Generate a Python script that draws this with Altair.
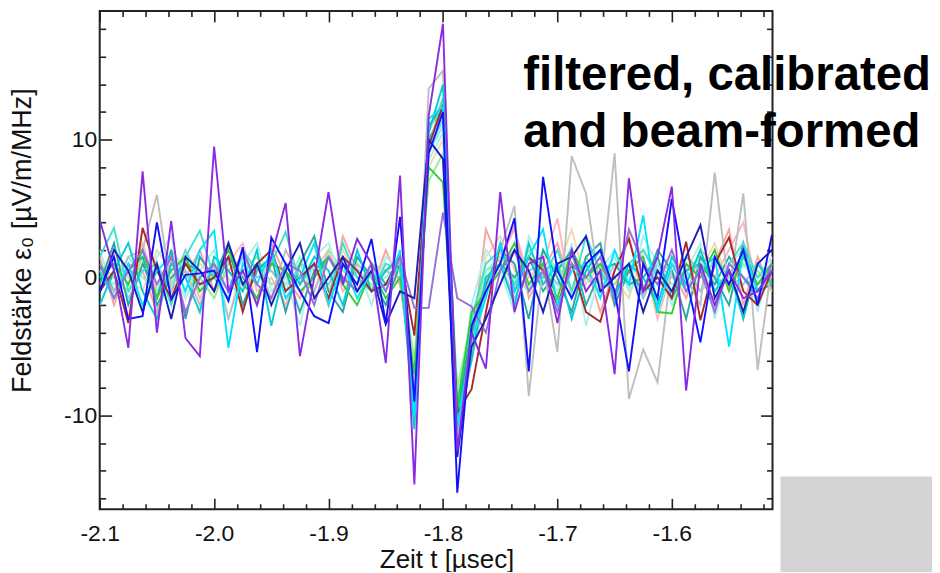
import altair as alt
import pandas as pd

FONT = "Liberation Sans"

# sample times (12.5 ns grid), microseconds
t_vals = [-2.1000, -2.0875, -2.0750, -2.0625, -2.0500, -2.0375, -2.0250, -2.0125,
          -2.0000, -1.9875, -1.9750, -1.9625, -1.9500, -1.9375, -1.9250, -1.9125,
          -1.9000, -1.8875, -1.8750, -1.8625, -1.8500, -1.8375, -1.8250, -1.8125,
          -1.8000, -1.7875, -1.7750, -1.7625, -1.7500, -1.7375, -1.7250, -1.7125,
          -1.7000, -1.6875, -1.6750, -1.6625, -1.6500, -1.6375, -1.6250, -1.6125,
          -1.6000, -1.5875, -1.5750, -1.5625, -1.5500, -1.5375, -1.5250, -1.5125]

wheat = [-0.5, 1.5, 0.0, -1.0, 2.0, 0.5, -1.5, 1.0, 0.0, 2.0, -1.0, 0.5, 1.5, -0.5, 0.0, 1.0,
         -1.0, 2.0, 0.0, 0.5, 1.0, 0.5, -6.5, 8.0, 10.0, -9.0, -4.5, 1.5, 3.0, 0.5, -1.0, 2.0,
         0.5, 3.5, -0.5, 1.0, 0.0, -1.5, 2.0, 0.5, 1.0, -1.0, 0.5, 2.5, -0.5, 1.0, 0.0, 1.5]
pink = [0.5, 1.0, -0.5, 2.5, -1.0, 0.0, 1.5, -1.5, 0.5, 1.0, 2.5, -1.0, 0.0, -2.0, 1.0, 0.5,
        2.0, -1.0, 0.5, -0.5, 0.5, -0.5, -7.0, 10.5, 13.0, -10.5, -4.0, 0.5, 1.5, 3.5, 0.0, 1.0,
        4.3, -1.5, 0.5, 1.0, -2.0, 0.5, 1.5, -3.0, 0.5, 1.0, -1.0, 0.0, 2.0, 4.0, -1.0, 0.5]
salmon = [1.5, -2.0, 1.0, 0.5, -2.5, 1.5, 0.0, 2.0, -1.0, 0.5, 1.5, -2.0, 2.5, 0.0, -1.5, 1.0,
          -2.0, 3.0, 0.5, -1.0, 2.0, -0.5, -8.0, 11.0, 12.0, -9.0, -5.0, 3.5, 1.0, 3.8, -1.5, 0.5,
          2.5, -1.0, 1.0, -2.5, 0.5, 3.0, -1.5, 1.0, 0.5, -1.5, 2.0, 1.0, 3.5, -2.0, 1.5, -1.0]
lightgreen = [1.0, 0.0, -1.0, 1.5, 0.5, -0.5, 2.0, 0.0, -1.5, 1.0, 0.5, 1.5, -0.5, 0.0, 1.0, -1.0,
              2.0, 0.5, -0.5, 1.0, 0.5, 1.0, -6.0, 7.0, 9.0, -8.0, -3.0, 0.5, 1.0, -0.5, 2.0, 0.5,
              1.0, -1.0, 1.5, 0.0, -0.5, 1.0, 2.0, 0.5, -1.0, 0.5, 1.5, 0.0, -0.5, 1.0, 0.5, -1.0]
aquamarine = [0.5, -0.5, 1.5, 0.0, -1.0, 2.0, 0.5, -1.0, 1.0, 0.0, -2.0, 1.0, 0.5, -0.5, 1.5, -1.5,
              0.0, 1.0, 0.5, -0.5, 0.0, 1.0, -8.5, 9.0, 11.0, -8.5, -5.5, 0.5, 1.5, 0.0, -1.0, 2.0,
              0.5, -1.5, 1.0, 0.0, 1.5, -1.0, 0.5, 1.0, -0.5, 0.0, 1.5, -1.0, 0.5, 1.0, -0.5, 0.0]
skyblue = [0.0, 1.0, -1.5, 0.5, 1.0, -1.0, 2.0, -0.5, 0.5, -1.0, 1.5, 0.0, 0.5, -1.0, 1.0, 0.5,
           -0.5, 1.5, 0.0, -1.0, 0.5, 0.0, -8.0, 9.0, 11.5, -11.0, -5.0, 0.0, 1.0, -1.5, 0.5, 1.0,
           -0.5, 1.5, 0.0, -1.0, 1.0, 0.5, -1.5, 1.0, 0.0, 0.5, -1.0, 1.5, 0.0, -0.5, 1.0, 0.0]
paleturquoise = [2.0, -1.0, 0.5, -2.5, 1.5, 3.0, -1.5, 0.5, 2.0, -3.0, 1.0, 2.5, -1.0, 0.0, -3.5, 1.5,
                 2.5, -0.5, 1.0, -2.0, 1.5, 0.5, -7.5, 8.5, 10.5, -9.5, -2.0, 2.0, 0.5, -2.5, 3.0, 1.0,
                 -1.0, 2.5, -3.5, 0.5, 2.0, -1.0, 3.0, 1.0, -2.0, 0.5, 2.5, -3.0, 1.0, 2.0, -2.5, 1.5]
seagreen = [1.0, -1.0, 0.5, 1.5, -2.0, 0.0, 1.0, 0.5, -1.0, 1.5, 0.0, -1.5, 1.0, 0.5, -2.5, 0.5,
            1.5, 0.0, -1.0, 1.0, -0.5, 1.0, -9.0, 10.0, 12.0, -10.0, -3.5, -0.5, 1.0, 0.0, 1.5, -1.0,
            0.5, 2.0, -2.0, 0.5, 1.0, -0.5, 0.0, 1.5, -1.5, 0.5, 1.0, -0.5, 1.5, 0.0, -1.0, 0.5]
darkcyan = [-0.5, 2.5, -2.0, 1.0, -1.5, 2.0, -3.0, 1.5, 0.0, 2.5, -2.0, 0.5, 1.5, -2.5, 1.0, 3.0,
            -1.0, -2.5, 1.5, 0.0, -2.0, 1.0, -9.5, 11.0, 12.5, -10.5, -4.0, -0.5, 2.0, 1.0, -3.0, 2.0,
            0.0, -2.5, 1.5, 2.5, -2.0, 0.5, -1.0, 2.0, 0.5, -3.0, 1.5, 0.0, -2.0, 2.5, -1.0, -0.5]
gray = [0.5, -1.0, 1.5, 2.0, 6.0, -1.0, 0.5, -2.0, 1.0, -3.0, 0.5, 1.0, -1.5, 2.0, 0.0, -1.0,
        1.5, -0.5, 1.0, 0.0, 0.5, 1.0, -8.0, 13.7, 15.0, -11.5, -6.0, -1.0, 2.0, 5.2, -8.6, 1.0,
        -5.4, 8.8, 6.1, -1.0, 9.0, -8.8, -5.2, -7.6, 1.0, 0.0, -2.0, 7.6, -1.0, 6.1, -6.7, 1.0]
turquoise = [1.5, 3.6, -1.0, 0.5, 1.0, -2.0, 1.5, 3.4, 0.0, -1.5, 2.0, 0.5, 1.0, 3.3, -0.5, 1.0,
             -1.5, 2.5, 0.0, -1.0, 1.0, 0.5, -9.5, 9.5, 13.0, -9.0, -3.0, 1.0, 2.0, -0.5, 1.5, 0.0,
             2.0, -1.0, 3.0, 0.5, -1.5, 1.0, 2.0, 0.0, -1.0, 1.5, 0.5, -2.0, 1.0, 2.5, 0.0, 1.0]
green = [0.0, 1.0, -0.5, 2.0, -1.5, 0.5, 1.5, -1.0, 0.0, 2.0, -0.5, -1.5, 1.0, 0.5, -1.0, 0.0,
         1.5, -0.5, -2.0, 0.5, -1.5, 0.0, -7.0, 8.0, 6.9, -9.5, -2.5, -1.0, 0.5, 2.5, -0.5, 1.0,
         -1.5, 2.0, 0.0, 1.0, -1.0, 0.5, 1.5, -2.5, -2.6, 1.0, 0.0, 2.0, -1.0, 1.5, -0.5, 1.0]
darkturquoise = [-2.0, 0.5, 2.5, -1.0, -3.0, 1.0, 0.0, -2.5, 1.5, 0.5, -1.0, 2.0, -3.5, 1.0, -0.5, 1.5,
                 0.5, -2.0, 2.0, -1.0, 0.5, 1.5, -11.0, 10.5, 14.0, -10.0, -6.0, 0.0, 1.0, -2.0, 2.5, -0.5,
                 1.0, -3.0, 0.5, 2.0, -1.5, 1.0, 0.0, -2.0, 1.5, -0.5, 2.0, -1.0, 0.5, -3.0, 1.0, -0.5]
brown = [-1.0, 0.5, -3.3, 3.6, 0.5, -1.5, 1.0, -0.5, 0.0, 1.5, -2.5, 1.0, 2.0, -1.0, 0.0, 1.0,
         -1.5, 1.5, 0.5, -1.0, -0.5, 1.5, -4.2, 9.5, 12.5, -9.8, -8.1, -2.5, 2.5, -1.0, 1.5, 0.5,
         -2.0, 1.0, -2.5, -3.2, 0.5, 2.8, -1.0, 0.0, -1.5, 2.6, -3.1, 1.0, 2.9, -1.0, -2.0, 0.5]
cyan = [0.5, -1.5, 1.0, -2.0, 0.5, 1.5, -1.0, 2.0, 3.4, -5.1, 1.0, -0.5, 2.0, -1.5, 0.0, 2.5,
        -2.0, 1.0, -1.5, 0.5, -1.0, 2.0, -10.0, 11.5, 12.4, -11.0, -4.5, -1.5, 2.5, -1.0, 1.5, 3.5,
        -2.0, 0.5, 1.0, -1.5, 2.0, -0.5, 4.5, -2.5, 1.0, -1.0, 0.5, 1.5, -5.0, 2.0, -1.0, 0.5]
medpurple = [1.0, -1.5, 0.5, 2.0, -0.5, 1.5, -2.5, 0.0, 1.0, -1.0, 2.0, -0.5, -1.5, 1.0, 0.5, -2.0,
             1.5, 0.0, -1.0, 1.0, -1.0, 1.5, -2.2, -2.2, 4.7, -1.5, -2.1, -4.0, 0.5, 2.0, -1.0, 0.5,
             -2.5, 1.0, 0.0, 1.5, -1.5, 3.5, 1.0, -0.5, 2.0, -1.0, 0.5, -2.5, 1.0, 0.0, -1.5, 1.0]
darkblue = [-1.1, 2.0, 0.5, -2.5, 1.0, -3.0, 1.5, 0.5, -1.0, 2.5, -0.5, 1.0, -2.0, 0.5, 2.5, -1.5,
            0.0, 1.5, -1.0, 0.5, -3.4, -1.0, -1.5, 10.0, 8.6, -13.0, -5.0, -3.0, -0.5, 2.0, 0.5, -2.5,
            1.0, 1.5, 3.0, -1.0, 0.0, 1.0, -2.5, 0.5, -1.0, 1.5, 3.8, -1.5, 0.5, -2.5, 1.0, 2.0]
blue = [-1.0, 1.5, -3.0, -2.8, 4.0, -1.6, 0.2, 0.3, 0.5, -1.7, 2.2, -5.4, 2.9, 1.0, -1.0, -2.8,
        -3.3, 1.0, -0.5, 2.8, -3.3, 4.4, -9.0, 9.0, 12.0, -15.6, -3.5, -1.0, 1.0, 4.3, -6.8, 7.3,
        0.5, -1.5, 1.0, 2.0, -1.0, -6.8, 1.0, -1.5, 5.7, 0.0, -4.7, 1.5, -0.5, 2.0, -2.0, 3.1]
purple = [4.2, 0.5, -5.1, 7.7, -4.0, 4.1, -4.4, -5.7, 9.5, -1.0, 0.5, -2.0, 1.5, 5.4, -5.7, 0.0,
          6.2, -0.5, 2.8, 1.0, -6.2, 7.4, -15.0, 11.7, 18.4, -12.6, -4.0, -6.6, 6.2, -2.5, 1.0, 1.5,
          -3.3, 2.0, -1.0, 0.5, -7.0, 7.2, -1.0, 1.5, 6.6, -8.2, 1.0, -2.0, 0.5, -1.5, -1.0, 0.5]

series_names = ["wheat", "pink", "salmon", "lightgreen", "aquamarine", "skyblue",
                "paleturquoise", "seagreen", "darkcyan", "gray", "turquoise", "green",
                "darkturquoise", "brown", "cyan", "medpurple", "darkblue", "blue", "purple"]
series_values = [wheat, pink, salmon, lightgreen, aquamarine, skyblue,
                 paleturquoise, seagreen, darkcyan, gray, turquoise, green,
                 darkturquoise, brown, cyan, medpurple, darkblue, blue, purple]
series_colors = ["#F2D9B0", "#FFB6C1", "#F4A6A0", "#90EE90", "#7FFFD4", "#87CEEB",
                 "#AFEEEE", "#20B2AA", "#2AA5A5", "#BEBEBE", "#40E0D0", "#32CD32",
                 "#00CED1", "#A52A2A", "#00E5FF", "#9370DB", "#1C1CB8", "#1010FF", "#8A2BE2"]

x_major = [-2.1, -2.0, -1.9, -1.8, -1.7, -1.6]
x_minor = [round(-2.1 + 0.02 * i, 2) for i in range(30)]
x_minor = [v for v in x_minor if all(abs(v - m) > 1e-9 for m in x_major)]
y_major = [-10, 0, 10]
y_minor = [-16, -14, -12, -8, -6, -4, -2, 2, 4, 6, 8, 12, 14, 16, 18]

x_domain = [-2.1, -1.512]
y_domain = [-16.8, 19.33]

annot_text = ["filtered, calibrated", "and beam-formed"]
annot_t = [-1.7298, -1.7298]
annot_v = [13.62, 9.43]

rows = []
for name, vals in zip(series_names, series_values):
    for tt, vv in zip(t_vals, vals):
        rows.append({"series": name, "t": tt, "v": vv})
df = pd.DataFrame(rows)
corners = pd.DataFrame({"t": x_domain, "v": y_domain})
annot = pd.DataFrame({"t": annot_t, "v": annot_v, "label": annot_text})

xs = alt.Scale(domain=x_domain, nice=False, zero=False)
ys = alt.Scale(domain=y_domain, nice=False, zero=False)

TICK = "#222222"
MAJ_X, MIN_X = 11, 5.5
MAJ_Y, MIN_Y = 12, 6


def lab(fmt):
    return "replace(format(datum.value, '" + fmt + "'), '\u2212', '-')"


def tick_axis(orient, values, size, labels=False, **kw):
    return alt.Axis(orient=orient, values=values, tickSize=size, offset=-size,
                    domain=False, grid=False, labels=labels, ticks=True,
                    tickColor=TICK, tickWidth=1.6, **kw)


lines = alt.Chart(df).mark_line(strokeWidth=1.9, clip=True).encode(
    x=alt.X("t:Q", scale=xs, axis=tick_axis(
        "bottom", x_major, MAJ_X, labels=True, labelExpr=lab(".1f"),
        labelFont=FONT, labelFontSize=23, labelColor="#111111", labelPadding=13,
        labelFlush=False, labelOverlap=False,
        title="Zeit t [\u00b5sec]", titleFont=FONT, titleFontSize=26,
        titleFontWeight="normal", titleColor="#111111", titleX=348, titleY=48,
        titleBaseline="top", titleAlign="center")),
    y=alt.Y("v:Q", scale=ys, axis=tick_axis(
        "left", y_major, MAJ_Y, labels=True, labelExpr=lab("d"),
        labelFont=FONT, labelFontSize=23, labelColor="#111111", labelPadding=3,
        labelFlush=False, labelOverlap=False,
        title="Feldst\u00e4rke \u03b5\u2080 [\u00b5V/m/MHz]", titleFont=FONT,
        titleFontSize=27, titleFontWeight="normal", titleColor="#111111",
        titleX=-75, titleY=230, titleAngle=270, titleBaseline="bottom",
        titleAlign="center")),
    color=alt.Color("series:N", scale=alt.Scale(domain=series_names, range=series_colors),
                    legend=None),
)

minor_bl = alt.Chart(corners).mark_point(opacity=0).encode(
    x=alt.X("t:Q", scale=xs, axis=tick_axis("bottom", x_minor, MIN_X, title=None)),
    y=alt.Y("v:Q", scale=ys, axis=tick_axis("left", y_minor, MIN_Y, title=None)),
)
major_tr = alt.Chart(corners).mark_point(opacity=0).encode(
    x=alt.X("t:Q", scale=xs, axis=tick_axis("top", x_major, MAJ_X, title=None)),
    y=alt.Y("v:Q", scale=ys, axis=tick_axis("right", y_major, MAJ_Y, title=None)),
)
minor_tr = alt.Chart(corners).mark_point(opacity=0).encode(
    x=alt.X("t:Q", scale=xs, axis=tick_axis("top", x_minor, MIN_X, title=None)),
    y=alt.Y("v:Q", scale=ys, axis=tick_axis("right", y_minor, MIN_Y, title=None)),
)

text = alt.Chart(annot).mark_text(
    font=FONT, fontSize=47.5, fontWeight="bold", align="left", baseline="alphabetic",
    color="#000000", clip=False
).encode(
    x=alt.X("t:Q", scale=xs, axis=None),
    y=alt.Y("v:Q", scale=ys, axis=None),
    text="label:N",
)

box = alt.Chart(pd.DataFrame({"k": [0]})).mark_rect(color="#D3D3D3", clip=False).encode(
    x=alt.value(683), x2=alt.value(840), y=alt.value(467), y2=alt.value(570),
)

chart = alt.layer(box, lines, minor_bl, major_tr, minor_tr, text).resolve_scale(
    x="shared", y="shared"
).resolve_axis(
    x="independent", y="independent"
).properties(
    width=675, height=500,
    autosize=alt.AutoSizeParams(type="none"),
    padding={"left": 92, "top": 2, "right": 160, "bottom": 62},
    background="white",
).configure_view(
    stroke="#222222", strokeWidth=2
)

chart.save("out.html", embed_options={"renderer": "svg", "actions": False})
